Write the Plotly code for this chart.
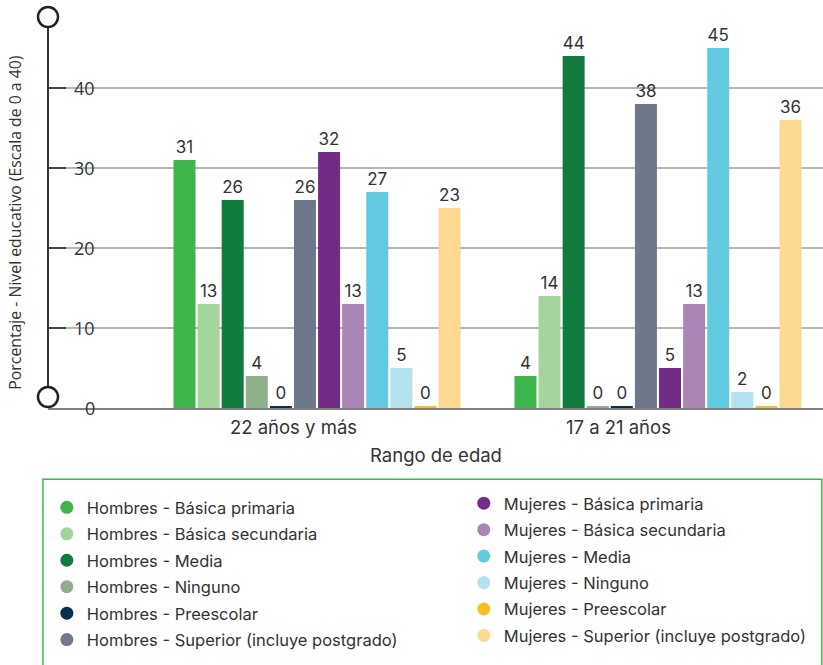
import plotly.graph_objects as go

categories = ["22 años y más", "17 a 21 años"]
series_names = [
    "Hombres - Básica primaria",
    "Hombres - Básica secundaria",
    "Hombres - Media",
    "Hombres - Ninguno",
    "Hombres - Preescolar",
    "Hombres - Superior (incluye postgrado)",
    "Mujeres - Básica primaria",
    "Mujeres - Básica secundaria",
    "Mujeres - Media",
    "Mujeres - Ninguno",
    "Mujeres - Preescolar",
    "Mujeres - Superior (incluye postgrado)",
]
# bar heights as drawn (zero bars show a thin sliver)
values = [
    [31, 4],
    [13, 14],
    [26, 44],
    [4, 0.2],
    [0.2, 0.2],
    [26, 38],
    [32, 5],
    [13, 13],
    [27, 45],
    [5, 2],
    [0.2, 0.2],
    [25, 36],
]
# labels printed above the bars
labels = [
    ["31", "4"],
    ["13", "14"],
    ["26", "44"],
    ["4", "0"],
    ["0", "0"],
    ["26", "38"],
    ["32", "5"],
    ["13", "13"],
    ["27", "45"],
    ["5", "2"],
    ["0", "0"],
    ["23", "36"],
]
colors = [
    "#3db54a", "#a3d49c", "#117a3d", "#8fae8a", "#0d2f4f", "#6e788a",
    "#732c85", "#a985b5", "#62cae0", "#b3e2ee", "#fdbf1a", "#fed992",
]
y_ticks = [0, 10, 20, 30, 40]
y_tick_labels = ["0", "10", "20", "30", "40"]
y_title = "Porcentaje - Nivel educativo (Escala de 0 a 40)"
x_title = "Rango de edad"

Y_MAX = 48.875

fig = go.Figure()
for name, vals, labs, col in zip(series_names, values, labels, colors):
    fig.add_trace(go.Bar(
        x=categories, y=vals, name=name, text=labs,
        textposition="outside", cliponaxis=False,
        textfont=dict(family="Inter", size=17, color="#333333"),
        marker=dict(color=col, line=dict(width=0)),
        showlegend=False, hoverinfo="skip",
    ))

# legend-only circle markers
for i, (name, col) in enumerate(zip(series_names, colors)):
    fig.add_trace(go.Scatter(
        x=[None], y=[None], mode="markers", name=name,
        marker=dict(size=13, color=col, symbol="circle"),
        legend="legend" if i < 6 else "legend2",
        legendgroup=f"g{i}",
    ))

legend_font = dict(family="Inter", size=16.5, color="#333333")
fig.update_layout(
    width=823, height=665,
    margin=dict(l=48, r=0, t=17, b=257, autoexpand=False),
    paper_bgcolor="white", plot_bgcolor="white",
    barmode="group", bargap=0.152, bargroupgap=0.087,
    font=dict(family="Inter", color="#333333"),
    legend=dict(x=-0.0015, xanchor="left", y=-0.21, yanchor="top",
                font=legend_font, traceorder="grouped", tracegroupgap=2,
                bgcolor="rgba(0,0,0,0)"),
    legend2=dict(x=0.5365, xanchor="left", y=-0.1994, yanchor="top",
                 font=legend_font, traceorder="grouped", tracegroupgap=2,
                 bgcolor="rgba(0,0,0,0)"),
    xaxis=dict(
        type="category", range=[-0.789, 1.484], automargin=False,
        tickmode="array", tickvals=[-0.069, 0.884], ticktext=categories,
        tickfont=dict(family="Inter", size=18.5, color="#333333"),
        showline=True, linecolor="#808080", linewidth=1.5,
        showgrid=False, ticks="", ticklabelstandoff=2,
    ),
    yaxis=dict(
        range=[0, Y_MAX], tickmode="array", tickvals=y_ticks, automargin=False,
        ticks="inside", ticklen=18, tickwidth=2, tickcolor="#444444",
        showticklabels=False,
        showgrid=True, gridcolor="#b5b5b5", gridwidth=1.5,
        zeroline=False, showline=False,
    ),
)

# y tick labels (right-aligned, inside the plot, over the gridlines)
for v, t in zip(y_ticks, y_tick_labels):
    fig.add_annotation(text=t, xref="paper", yref="y", x=0, y=v, xshift=49,
                       xanchor="right", yanchor="middle", showarrow=False,
                       font=dict(family="Open Sans", size=18, color="#333333"))

# axis titles
fig.add_annotation(text=y_title, xref="paper", yref="paper", x=-0.0426, y=0.474,
                   xanchor="center", yanchor="middle", textangle=-90, showarrow=False,
                   font=dict(family="Open Sans", size=15.8, color="#333333"))
fig.add_annotation(text=x_title, xref="paper", yref="paper", x=0.5, y=-0.1202,
                   xanchor="center", yanchor="middle", showarrow=False,
                   font=dict(family="Inter", size=18.5, color="#333333"))

# y axis line with circle ends
bottom_frac = 1.375 / Y_MAX
fig.add_shape(type="line", xref="paper", yref="paper", x0=0, x1=0, y0=bottom_frac, y1=1,
              line=dict(color="#333333", width=2), layer="above")
for yc in [1, bottom_frac]:
    fig.add_shape(type="circle", xref="paper", yref="paper",
                  xsizemode="pixel", ysizemode="pixel",
                  xanchor=0, yanchor=yc,
                  x0=-10, x1=10, y0=-10, y1=10,
                  line=dict(color="#222222", width=2.5), fillcolor="white", layer="above")

# legend box
fig.add_shape(type="rect", xref="paper", yref="paper",
              x0=-0.0065, x1=0.9985, y0=-0.182, y1=-0.72,
              line=dict(color="#3db54a", width=1.5), fillcolor="rgba(0,0,0,0)")

fig.write_html("out.html", config={"displayModeBar": False},
               post_script="document.body.style.margin='0';")
